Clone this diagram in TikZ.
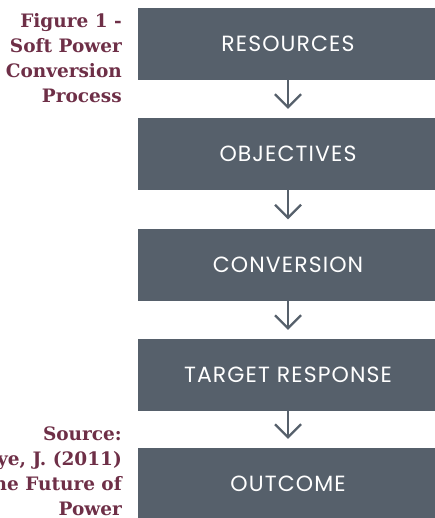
\documentclass[tikz,border=0pt]{standalone}
\usepackage{fontspec}
\usepackage{tikz}
\usetikzlibrary{positioning}
\usetikzlibrary{arrows.meta}

\newfontfamily\boxfont[LetterSpace=5]{Poppins}
\newfontfamily\capfont{DejaVu Serif}

\definecolor{slate}{HTML}{56606B}
\definecolor{plum}{HTML}{6E2F47}

\tikzset{
  stage/.style={rectangle, fill=slate, text=white, minimum width=300bp, minimum height=72bp,
    inner sep=0pt, font=\boxfont\fontsize{22bp}{26bp}\selectfont},
  flow/.style={draw=slate, line width=2.2bp, -{Straight Barb[length=13bp,width=26bp]}, shorten >=9bp},
  caption/.style={text=plum, align=right, inner sep=0pt,
    font=\capfont\bfseries\fontsize{18.5bp}{25bp}\selectfont}
}

\begin{document}
\begin{tikzpicture}[x=1bp, y=-1bp]

  \useasboundingbox (0,0) rectangle (435,518);
  \clip (0,0) rectangle (435,518);

	%stages
    \foreach \y/\txt/\name in {44/RESOURCES/s1, 154/OBJECTIVES/s2, 264.5/CONVERSION/s3, 375/TARGET RESPONSE/s4, 484/OUTCOME/s5}{
        \node[stage] (\name) at (288, \y) {\txt};
    }

	%arrows
    \foreach \a/\b in {s1/s2, s2/s3, s3/s4, s4/s5}{
        \draw[flow] (\a.south) -- (\b.north);
    }

	%captions
    \node[caption, anchor=base east] (title) at (122, 103) {Figure 1 -\\Soft Power\\Conversion\\Process};
    \node[caption, anchor=base east] (source) at (122, 515) {Source:\\Nye, J. (2011)\\The Future of\\Power};

\end{tikzpicture}
\end{document}
